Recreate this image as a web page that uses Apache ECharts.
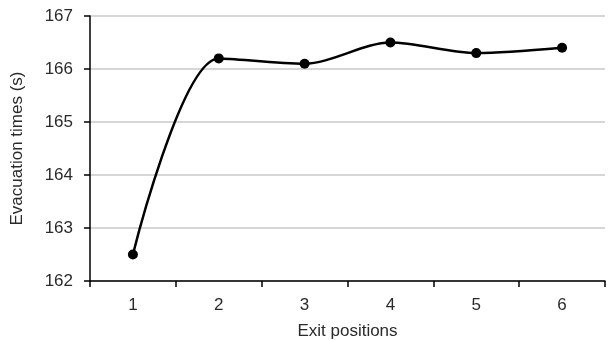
<!DOCTYPE html>
<html lang="en">
<head>
    <meta charset="UTF-8">
    <title>Evacuation times by exit position</title>
    <script src="https://cdn.jsdelivr.net/npm/echarts@6/dist/echarts.min.js"></script>
</head>
<body style="margin:0;">
    <div id="chart-container" style="width: 616px; height: 340px;"></div>
    <script>
    // data
    var exitPositions = ['1', '2', '3', '4', '5', '6'];
    var evacuationTimes = [162.5, 166.2, 166.1, 166.5, 166.3, 166.4];

    var chart = echarts.init(document.getElementById('chart-container'));
    var font = 'Liberation Sans, Arial, sans-serif';

    var option = {
        animation: false,
        grid: { left: 90, right: 11, top: 16, bottom: 59, outerBoundsMode: 'none' },
        xAxis: {
            type: 'category',
            data: exitPositions,
            boundaryGap: true,
            name: 'Exit positions',
            nameLocation: 'middle',
            nameGap: 42,
            nameTextStyle: { color: '#2a2a2a', fontSize: 17, fontFamily: font },
            axisLine: { lineStyle: { color: '#000', width: 1.5 } },
            axisTick: { show: true, length: 6, lineStyle: { color: '#000', width: 1.5 } },
            axisLabel: { color: '#2a2a2a', fontSize: 17, fontFamily: font, margin: 16 }
        },
        yAxis: {
            type: 'value',
            min: 162,
            max: 167,
            interval: 1,
            name: 'Evacuation times (s)',
            nameLocation: 'middle',
            nameGap: 64,
            nameTextStyle: { color: '#2a2a2a', fontSize: 17, fontFamily: font },
            axisLine: { show: true, lineStyle: { color: '#000', width: 1.5 } },
            axisTick: { show: true, length: 6, lineStyle: { color: '#000', width: 1.5 } },
            axisLabel: { color: '#2a2a2a', fontSize: 17, fontFamily: font, margin: 17 },
            splitLine: { lineStyle: { color: '#c8c8c8', width: 1.5 } }
        },
        series: [{
            type: 'line',
            data: evacuationTimes,
            smooth: 0.3,
            symbol: 'circle',
            symbolSize: 10,
            itemStyle: { color: '#000' },
            lineStyle: { color: '#000', width: 2.5 }
        }]
    };

    chart.setOption(option);
    </script>
</body>
</html>
